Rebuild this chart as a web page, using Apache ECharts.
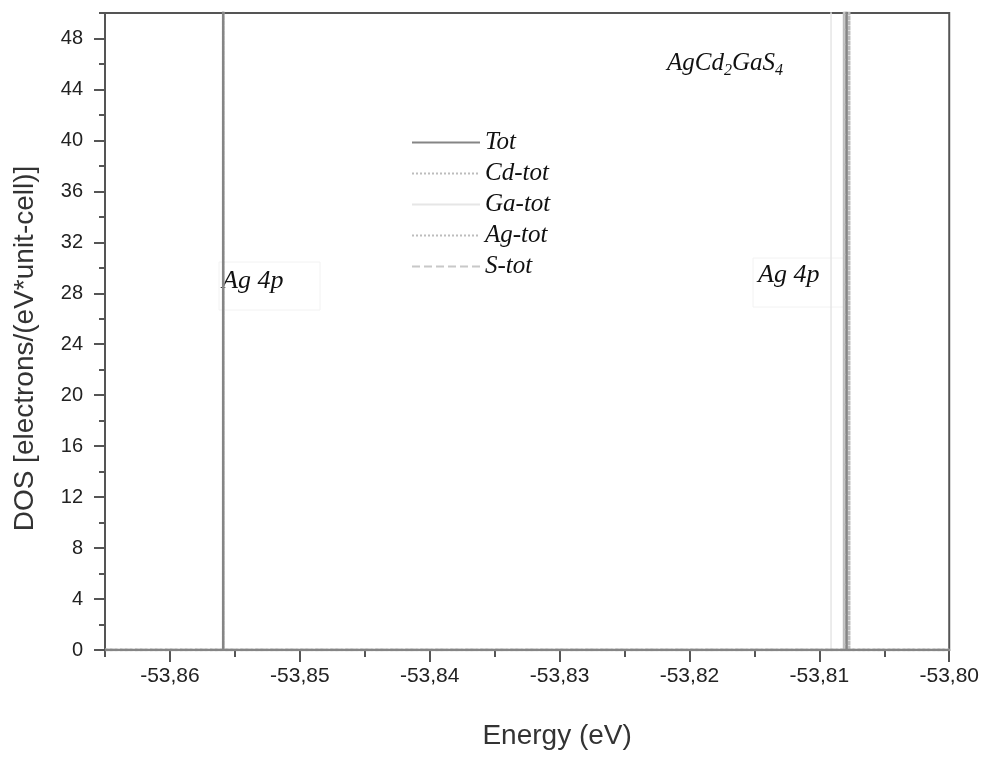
<!DOCTYPE html>
<html>
<head>
<meta charset="utf-8">
<script src="https://cdn.jsdelivr.net/npm/echarts@6/dist/echarts.min.js"></script>
<style>
  html, body { margin: 0; padding: 0; background: #fff; }
  #chart { width: 982px; height: 760px; }
</style>
</head>
<body>
<div id="chart"></div>
<script>
  // DOS spikes (energy in eV, DOS in electrons/(eV*unit-cell))
  const totEnergy = [-53.865, -53.8559, -53.8559, -53.8559, -53.8079, -53.8079, -53.8079, -53.80];
  const totDos    = [0, 0, 900, 0, 0, 900, 0, 0];
  const cdEnergy  = [-53.865, -53.8081, -53.8081, -53.8081, -53.80];
  const cdDos     = [0, 0, 400, 0, 0];
  const gaEnergy  = [-53.865, -53.8091, -53.8091, -53.8091, -53.80];
  const gaDos     = [0, 0, 150, 0, 0];
  const agEnergy  = [-53.865, -53.8559, -53.8559, -53.8559, -53.8077, -53.8077, -53.8077, -53.80];
  const agDos     = [0, 0, 300, 0, 0, 300, 0, 0];
  const sEnergy   = [-53.865, -53.8080, -53.8080, -53.8080, -53.80];
  const sDos      = [0, 0, 200, 0, 0];

  const xTicks      = [-53.86, -53.85, -53.84, -53.83, -53.82, -53.81, -53.80];
  const xMinorTicks = [-53.865, -53.855, -53.845, -53.835, -53.825, -53.815, -53.805];
  const yTicks      = [0, 4, 8, 12, 16, 20, 24, 28, 32, 36, 40, 44, 48];
  const yMinorTicks = [2, 6, 10, 14, 18, 22, 26, 30, 34, 38, 42, 46, 50];

  function pairs(xs, ys) {
    return xs.map((x, i) => [x, ys[i]]);
  }

  const serif = '"Liberation Serif", "Times New Roman", serif';
  const sans = '"Liberation Sans", Arial, sans-serif';

  let chart = echarts.init(document.getElementById('chart'));

  let option = {
    animation: false,
    title: {
      text: '{a|AgCd}{b|2}{a|GaS}{b|4}',
      left: 662,
      top: 42,
      textStyle: {
        rich: {
          a: { fontFamily: serif, fontStyle: 'italic', fontWeight: 'normal', fontSize: 25, color: '#111', lineHeight: 32, verticalAlign: 'middle' },
          b: { fontFamily: serif, fontStyle: 'italic', fontWeight: 'normal', fontSize: 16, color: '#111', lineHeight: 32, verticalAlign: 'bottom' }
        }
      }
    },
    legend: {
      orient: 'vertical',
      left: 406,
      top: 125,
      itemWidth: 68,
      itemHeight: 14,
      itemGap: 6,
      itemStyle: { opacity: 0 },
      textStyle: {
        fontFamily: serif,
        fontStyle: 'italic',
        fontSize: 25,
        lineHeight: 25,
        color: '#111'
      },
      data: ['Tot', 'Cd-tot', 'Ga-tot', 'Ag-tot', 'S-tot']
    },
    grid: {
      left: 105,
      right: 29,
      top: 13,
      bottom: 110,
      show: true,
      borderColor: '#555',
      borderWidth: 2
    },
    xAxis: [
      {
        type: 'value',
        min: -53.865,
        max: -53.80,
        interval: 0.005,
        name: 'Energy (eV)',
        nameLocation: 'middle',
        nameGap: 72,
        nameTextStyle: { fontFamily: sans, fontSize: 28, color: '#333', padding: [0, 0, 0, 60] },
        axisLine: { lineStyle: { color: '#555', width: 2 } },
        axisTick: { customValues: xTicks, length: 12, lineStyle: { color: '#555', width: 2 } },
        axisLabel: {
          customValues: xTicks,
          margin: 16,
          fontFamily: sans,
          fontSize: 21,
          color: '#222',
          formatter: v => v.toFixed(2).replace('.', ',')
        },
        splitLine: { show: false }
      },
      {
        type: 'value',
        position: 'bottom',
        min: -53.865,
        max: -53.80,
        interval: 0.005,
        axisLine: { show: false },
        axisTick: { customValues: xMinorTicks, length: 7, lineStyle: { color: '#555', width: 2 } },
        axisLabel: { show: false },
        splitLine: { show: false }
      }
    ],
    yAxis: [
      {
        type: 'value',
        min: 0,
        max: 50,
        interval: 4,
        name: 'DOS [electrons/(eV*unit-cell)]',
        nameLocation: 'middle',
        nameGap: 66,
        nameTextStyle: { fontFamily: sans, fontSize: 28, color: '#333', padding: [0, 34, 0, 0] },
        axisLine: { lineStyle: { color: '#555', width: 2 } },
        axisTick: { customValues: yTicks, length: 11, lineStyle: { color: '#555', width: 2 } },
        axisLabel: { customValues: yTicks, margin: 22, fontFamily: sans, fontSize: 20, color: '#222' },
        splitLine: { show: false }
      },
      {
        type: 'value',
        position: 'left',
        min: 0,
        max: 50,
        interval: 4,
        axisLine: { show: false },
        axisTick: { customValues: yMinorTicks, length: 6, lineStyle: { color: '#555', width: 2 } },
        axisLabel: { show: false },
        splitLine: { show: false }
      }
    ],
    series: [
      {
        name: 'Tot', type: 'line', symbol: 'none', z: 5,
        color: '#858585',
        lineStyle: { color: '#858585', width: 2.5 },
        data: pairs(totEnergy, totDos)
      },
      {
        name: 'Cd-tot', type: 'line', symbol: 'none', z: 3,
        color: '#bdbdbd',
        lineStyle: { color: '#bdbdbd', width: 2.5, type: 'dotted' },
        data: pairs(cdEnergy, cdDos)
      },
      {
        name: 'Ga-tot', type: 'line', symbol: 'none', z: 2,
        color: '#e6e6e6',
        lineStyle: { color: '#e6e6e6', width: 1.5 },
        data: pairs(gaEnergy, gaDos)
      },
      {
        name: 'Ag-tot', type: 'line', symbol: 'none', z: 3,
        color: '#bdbdbd',
        lineStyle: { color: '#bdbdbd', width: 2.5, type: 'dotted' },
        data: pairs(agEnergy, agDos)
      },
      {
        name: 'S-tot', type: 'line', symbol: 'none', z: 4,
        color: '#c8c8c8',
        lineStyle: { color: '#c8c8c8', width: 2.5, type: 'dashed' },
        data: pairs(sEnergy, sDos)
      }
    ],
    graphic: [
      {
        type: 'group', x: 219, y: 262, z: 100,
        children: [
          { type: 'rect', shape: { x: 0, y: 0, width: 101, height: 48 }, style: { fill: '#fff', stroke: '#f2f2f2' } },
          { type: 'text', x: 3, y: 19, style: { text: 'Ag 4p', font: 'italic 26px ' + serif, fill: '#111', verticalAlign: 'middle' } }
        ]
      },
      {
        type: 'group', x: 753, y: 258, z: 100,
        children: [
          { type: 'rect', shape: { x: 0, y: 0, width: 95, height: 49 }, style: { fill: '#fff', stroke: '#f2f2f2' } },
          { type: 'text', x: 5, y: 17, style: { text: 'Ag 4p', font: 'italic 26px ' + serif, fill: '#111', verticalAlign: 'middle' } }
        ]
      }
    ]
  };

  chart.setOption(option);
</script>
</body>
</html>
